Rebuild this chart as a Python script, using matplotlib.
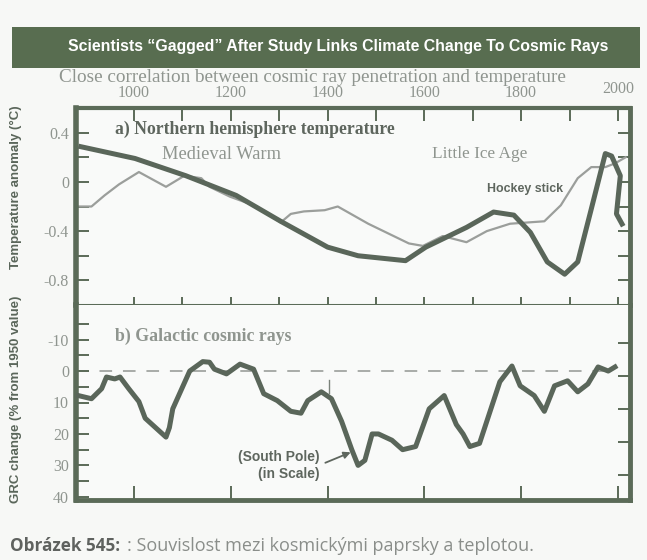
import matplotlib
matplotlib.use("Agg")
import matplotlib.pyplot as plt
from matplotlib.patches import Rectangle

# --- data ---
# a) temperature, thin grey curve
thin_years = [885, 912, 939, 969, 1010, 1066, 1104, 1139, 1156, 1198, 1254, 1303, 1324,
              1351, 1394, 1421, 1484, 1568, 1597, 1638, 1687, 1729, 1777, 1848, 1882,
              1917, 1945, 1974, 1994, 2016]
thin_temp = [-0.20, -0.20, -0.11, -0.02, 0.08, -0.04, 0.05, 0.03, -0.04, -0.12, -0.20,
             -0.33, -0.26, -0.24, -0.23, -0.20, -0.34, -0.50, -0.52, -0.44, -0.49, -0.40,
             -0.34, -0.32, -0.19, 0.03, 0.12, 0.12, 0.15, 0.20]

# a) temperature, thick curve ("hockey stick")
thick_years = [885, 1002, 1107, 1211, 1303, 1400, 1463, 1561, 1603, 1687, 1743, 1785,
               1819, 1854, 1890, 1917, 1945, 1974, 1987, 2005, 1997, 2011]
thick_temp = [0.29, 0.19, 0.05, -0.11, -0.32, -0.53, -0.60, -0.64, -0.53, -0.37, -0.245,
              -0.27, -0.41, -0.65, -0.75, -0.65, -0.22, 0.23, 0.21, 0.05, -0.26, -0.36]

# b) galactic cosmic rays (% change, axis inverted)
gcr_years = [885, 912, 933, 943, 960, 971, 989, 1010, 1023, 1066, 1073, 1080, 1115, 1142,
             1156, 1166, 1191, 1219, 1247, 1268, 1296, 1324, 1345, 1359, 1387, 1408,
             1429, 1450, 1463, 1477, 1492, 1505, 1533, 1555, 1582, 1610, 1641, 1666,
             1680, 1694, 1714, 1756, 1781, 1798, 1827, 1848, 1869, 1896, 1917, 1938,
             1959, 1980, 1994]
gcr_change = [7.8, 8.8, 5.6, 1.9, 2.5, 1.9, 5.6, 9.7, 15, 21, 18, 12, 0, -3, -2.8, -0.6,
              0.9, -2.2, -0.6, 7.2, 9.4, 12.8, 13.4, 9.4, 6.6, 8.8, 16, 25, 30, 28.4, 20,
              20, 22, 25, 24, 12, 7.8, 17, 20, 24, 23, 3.4, -1.6, 4.7, 7.8, 12.8, 4.7,
              3.1, 6.6, 4.1, -1.3, 0, -1.3]

temp_ticks = [-0.8, -0.4, 0, 0.4]
gcr_ticks = [-10, 0, 10, 20, 30, 40]
year_labels = [1000, 1200, 1400, 1600, 1800, 2000]

frame = "#5b6b58"
dark = "#5a665a"
grey = "#9b9e9b"
text_grey = "#8f958f"
serif = ["Liberation Serif", "DejaVu Serif"]
narrow = ["Liberation Sans", "DejaVu Sans"]

W, H = 647, 560
fig = plt.figure(figsize=(W / 100, H / 100), dpi=100, facecolor="#f7f8f6")
renderer = fig.canvas.get_renderer()


def fx(px):
    return px / W


def fy(py):
    return 1 - py / H


def fit_width(t, px):
    # squeeze the font size until the text is px pixels wide
    w = t.get_window_extent(renderer).width
    t.set_fontsize(t.get_fontsize() * px / w)


# banner
fig.patches.append(Rectangle((fx(12), fy(68)), fx(628), 41 / H, transform=fig.transFigure,
                             facecolor="#586d50", edgecolor="none", zorder=0))
title = fig.text(fx(338), fy(47), "Scientists \u201cGagged\u201d After Study Links Climate Change To Cosmic Rays",
                 color="white", fontsize=12, fontweight="bold", family=narrow, ha="center", va="center")
fit_width(title, 540)
sub = fig.text(fx(312), fy(78), "Close correlation between cosmic ray penetration and temperature",
               color=text_grey, fontsize=13, family=serif, ha="center", va="center")
fit_width(sub, 505)

xlim = (880, 2025)
ax1 = fig.add_axes([fx(76), fy(305), fx(554), 197 / H], facecolor="#f9faf9")
ax2 = fig.add_axes([fx(76), fy(500), fx(554), 195 / H], facecolor="#f9faf9")

# ---- top panel ----
ax1.plot(thin_years, thin_temp, color=grey, lw=1.6, zorder=2)
ax1.plot(thick_years, thick_temp, color=dark, lw=3.6, zorder=3, solid_capstyle="butt")
ax1.set_xlim(*xlim)
ax1.set_ylim(-1.0, 0.6)

ax1.set_yticks([-0.8, -0.6, -0.4, -0.2, 0, 0.2, 0.4])
ax1.set_yticklabels([("%g" % v if v in temp_ticks else "") for v in [-0.8, -0.6, -0.4, -0.2, 0, 0.2, 0.4]],
                    family=serif, fontsize=11.5, color=text_grey)
ax1.tick_params(axis="y", which="both", direction="in", length=9, width=1.4, color=frame,
                left=True, right=True, pad=5)
ax1.set_xticks(range(1000, 2001, 100))
ax1.tick_params(axis="x", which="both", direction="in", length=9, width=1.4, color=frame,
                top=True, bottom=False, labeltop=False, labelbottom=False)
sec = ax1.secondary_xaxis("bottom")
sec.set_xticks(range(1000, 2001, 100))
sec.tick_params(direction="inout", length=12, width=1.4, color=frame, labelbottom=False)
sec.spines["bottom"].set_visible(False)

for s, w in [("left", 4), ("right", 3.5), ("top", 3), ("bottom", 2.2)]:
    ax1.spines[s].set_color(frame)
    ax1.spines[s].set_linewidth(w)

ylab1 = fig.text(fx(16), fy(187), "Temperature anomaly (\u00b0C)", family=narrow, fontweight="bold",
                 fontsize=9.5, color=dark, rotation=90, ha="center", va="center")
ylab2 = fig.text(fx(16), fy(399), "GRC change (% from 1950 value)", family=narrow, fontweight="bold",
                 fontsize=9.5, color=dark, rotation=90, ha="center", va="center")

t = ax1.text(960, 0.43, "a) Northern hemisphere temperature", family=serif, fontweight="bold",
             fontsize=12, color="#5e665e", ha="left", va="center")
fit_width(t, 277)
t = ax1.text(1180, 0.225, "Medieval Warm", family=serif, fontsize=13, color=text_grey,
             ha="center", va="center")
fit_width(t, 119)
t = ax1.text(1715, 0.225, "Little Ice Age", family=serif, fontsize=12.5, color=text_grey,
             ha="center", va="center")
fit_width(t, 95)
t = ax1.text(1808, -0.06, "Hockey stick", family=narrow, fontweight="bold", fontsize=8.5,
             color="#5e665e", ha="center", va="center")
fit_width(t, 76)

# year labels above the frame
for yr in year_labels:
    ax1.text(yr, 1.035 if yr < 2000 else 1.055, str(yr), transform=ax1.get_xaxis_transform(),
             family=serif, fontsize=11.5, color=text_grey, ha="center", va="bottom")

# ---- bottom panel ----
ax2.plot(gcr_years, gcr_change, color=dark, lw=3.6, zorder=3, solid_joinstyle="round")
ax2.axhline(0, xmin=0.0, xmax=(1982 - xlim[0]) / (xlim[1] - xlim[0]), color="#a2a5a2",
            lw=1.3, ls=(0, (7, 6)), zorder=1)
ax2.set_xlim(*xlim)
ax2.set_ylim(41, -21)

ax2.set_yticks(range(-15, 41, 5))
ax2.set_yticklabels([(str(v) if v in gcr_ticks else "") for v in range(-15, 41, 5)],
                    family=serif, fontsize=11.5, color=text_grey)
ax2.tick_params(axis="y", direction="in", length=9, width=1.4, color=frame,
                left=True, right=False, pad=5)
right = ax2.secondary_yaxis("right")
right.set_yticks([-9, 1.5, 12, 22.5, 33])
right.tick_params(direction="in", length=9, width=1.4, color=frame, labelright=False)
right.spines["right"].set_visible(False)
ax2.set_xticks(range(1000, 2001, 200))
ax2.tick_params(axis="x", direction="in", length=10, width=1.4, color=frame,
                top=False, bottom=True, labelbottom=False)

for s, w in [("left", 4), ("right", 3.5), ("bottom", 3.5)]:
    ax2.spines[s].set_color(frame)
    ax2.spines[s].set_linewidth(w)
ax2.spines["top"].set_visible(False)

t = ax2.text(960, -11, "b) Galactic cosmic rays", family=serif, fontweight="bold",
             fontsize=12, color=text_grey, ha="left", va="center")
fit_width(t, 175)
ax2.text(1383, 30, "(South Pole)\n(in Scale)", family=narrow, fontweight="bold",
         fontsize=10, color="#5e665e", ha="right", va="center", linespacing=1.25)
ax2.annotate("", xy=(1453, 25.5), xytext=(1390, 29.5),
             arrowprops=dict(arrowstyle="-|>", color="#5e665e", lw=1.3, mutation_scale=10))
ax2.plot([1402, 1402], [3, 7], color="#7a827a", lw=1)

# caption
cap1 = fig.text(fx(10), fy(546), "Obr\u00e1zek 545:", family=["Open Sans", "DejaVu Sans"],
                fontweight="bold", fontsize=12.5, color="#5f625f", ha="left", va="center")
fit_width(cap1, 110)
cap2 = fig.text(fx(127), fy(546), ": Souvislost mezi kosmick\u00fdmi paprsky a teplotou.",
                family=["Open Sans", "DejaVu Sans"], fontsize=12.5, color="#8a8e8a",
                ha="left", va="center")
fit_width(cap2, 410)

fig.savefig("out.png", dpi=100, facecolor=fig.get_facecolor())
